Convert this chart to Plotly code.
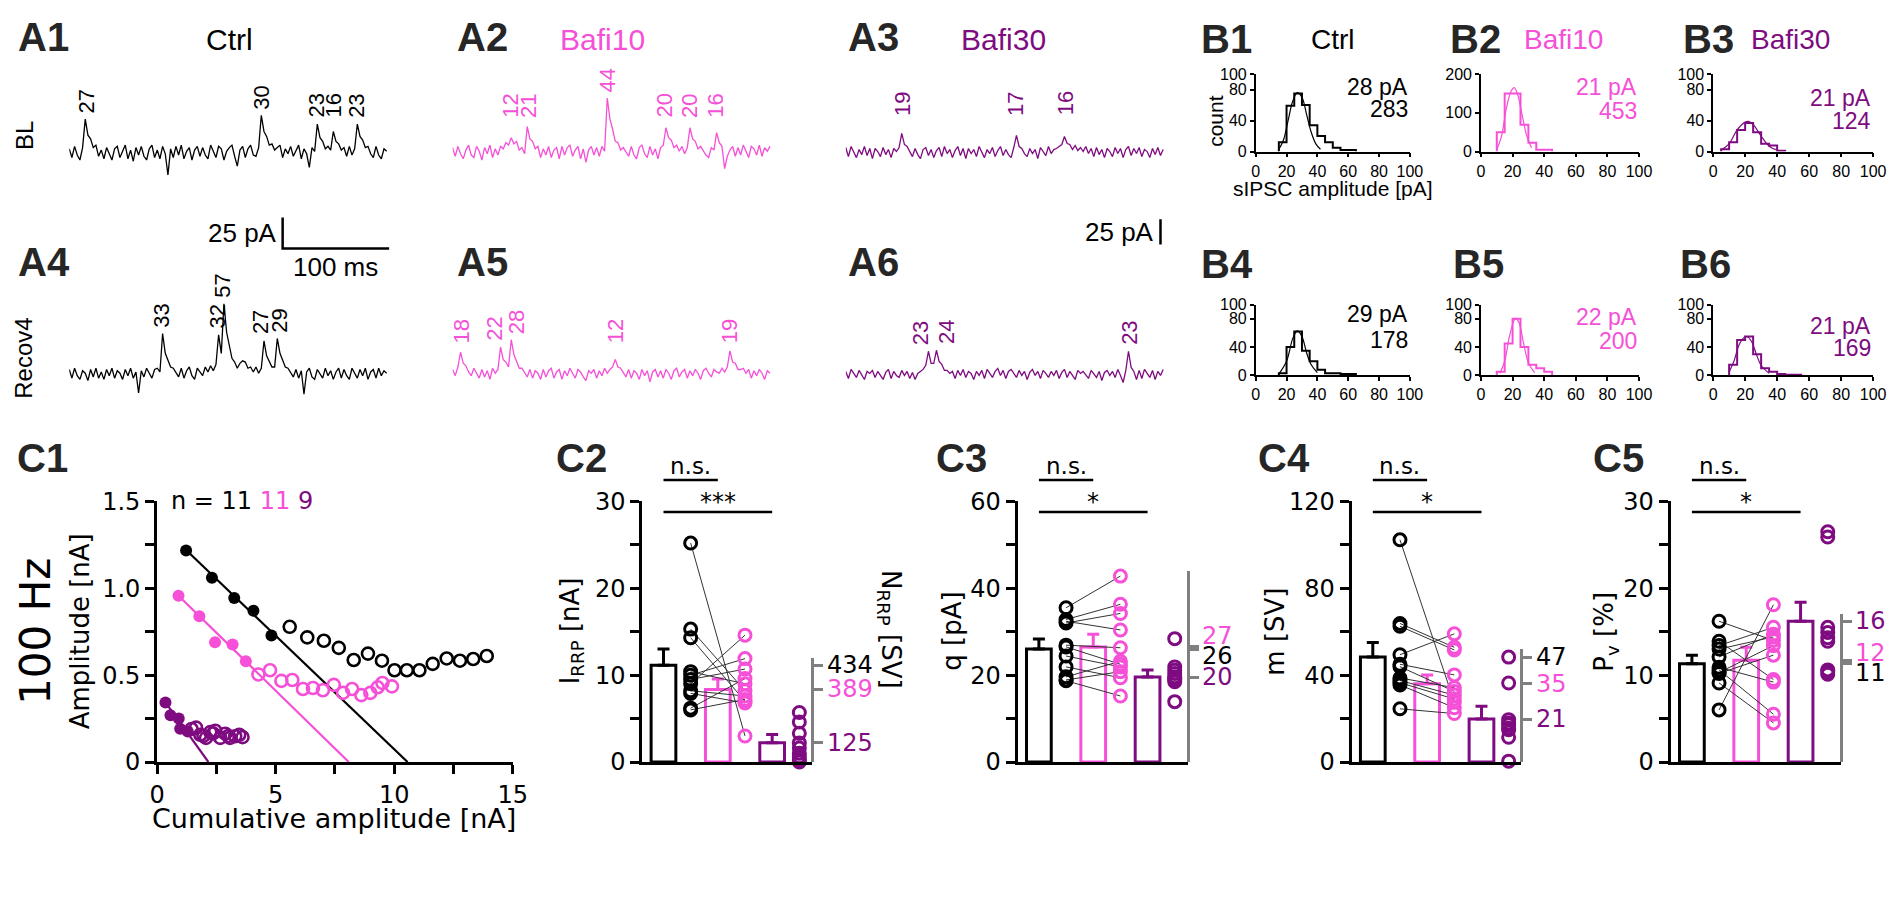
import plotly.graph_objects as go

W, H = 1902, 901
BLACK = "#000000"; PINK = "#F550D7"; PURPLE = "#7E0B80"; GRAY = "#808080"; LABEL_C = "#262626"
ARIAL = "Liberation Sans, Arial, Helvetica, sans-serif"
DEJAVU = "DejaVu Sans, Verdana, sans-serif"

# ================= DATA =================
# --- A: example sIPSC traces (pA, sampled every DT_MS) ---
DT_MS = 2.5
bl_ctrl = [3, -4, 5, -2, -6, 4, 27, 14, 11, 4,
           6, -3, 2, -5, 4, -1, -6, 3, 5, -4,
           1, 6, -5, 2, -7, 4, -2, 5, -3, -6,
           3, 6, -4, 2, -5, 5, -1, -18, 3, -4,
           5, -2, 6, -5, 1, 4, -6, 2, 5, -3,
           4, -2, -5, 6, 1, -4, 5, 3, -6, 1,
           4, 6, -3, -11, 2, 5, -4, 3, 6, -2,
           -3, 4, 30, 17, 13, 6, 7, 2, 4, 6,
           -4, 3, -1, 5, -3, 2, 6, -5, 3, -1,
           -12, 4, 1, 23, 12, 9, 3, 5, 2, 17,
           9, 7, 2, 4, -3, 5, -2, 3, 23, 13,
           10, 4, 5, -1, -4, 5, -2, -5, 3, 1]
bl_b10 = [4, -3, 5, -1, -5, 2, 6, -2, -4, 5,
          1, -6, 4, -1, 6, -4, 3, -2, 5, 3,
          8, 6, 12, 7, 9, 2, 4, -1, 21, 11,
          9, 3, 5, -4, 3, -2, 5, -4, 2, 4,
          -5, 5, -2, 4, 6, -3, 2, 5, -5, 3,
          -8, 2, 5, -2, 4, -3, 5, 1, 44, 27,
          19, 9, 8, 2, 4, 1, -3, 5, -2, -5,
          4, 6, -1, -4, 5, -2, 3, -5, 4, 6,
          20, 12, 10, 4, 6, 1, 5, -1, 4, 20,
          11, 9, 3, 5, 1, -2, -4, 4, 2, 16,
          8, 5, -13, -3, 2, 5, -3, 4, -2, 6,
          1, -4, 5, 3, -2, 6, -3, 4, 1, 5]
bl_b30 = [5, -4, 6, 1, -5, 3, -2, 6, -3, 4,
          -6, 4, 1, -4, 5, -2, 3, -5, 4, 1,
          5, 19, 8, 6, 1, -4, 4, -2, -6, 3,
          5, -3, 3, -5, 2, 5, -4, 6, -1, 3,
          -5, 2, 6, -3, 4, -6, 4, -1, 3, -4,
          6, 1, -5, 3, -1, 5, -4, 2, 6, -3,
          3, -2, -5, 5, 17, 6, 4, -1, -4, 4,
          -1, 3, -6, 5, 1, -3, 6, -1, 3, 4,
          6, 8, 16, 9, 8, 3, 7, 2, 5, 1,
          6, -1, 4, -4, 5, -2, 3, -5, 4, 1,
          -4, 5, -1, 4, -5, 3, 6, -3, 4, -1,
          5, -4, 3, 1, -5, 4, -2, 5, -3, 3]
rc_ctrl = [4, -3, 5, -1, -4, 3, 1, -5, 4, -2,
           5, -3, 2, -4, 4, -1, 5, -3, 3, 1,
           -4, 4, -1, 5, -3, 2, -15, 3, -2, 5,
           1, -3, 4, 5, 2, 33, 17, 12, 6, 5,
           2, -2, 5, -3, 3, 6, -1, -4, 5, 2,
           -1, 6, 2, 7, 3, 8, 32, 17, 57, 34,
           23, 13, 10, 5, 9, 11, 10, 5, 6, 2,
           6, 1, 5, 27, 15, 11, 6, 6, 29, 17,
           12, 6, 5, 1, -2, 4, -3, 3, -16, 2,
           5, -2, -4, 4, 1, -3, 5, -1, 3, -4,
           2, 5, -3, 4, -1, -4, 5, 1, -3, 4,
           -1, 5, -4, 2, 4, -3, 5, -1, 3, 1]
rc_b10 = [4, -1, 6, 18, 9, 7, 2, -1, 5, 1,
          -3, 4, -2, 3, -4, 5, 1, 4, 22, 12,
          10, 6, 28, 16, 11, 5, 5, 1, -2, 4,
          -3, 3, 1, -4, 4, -2, 3, 5, -3, 2,
          4, -4, 3, -1, 5, 1, -3, 4, 2, -2,
          -5, 3, 1, 4, -3, 3, -1, 5, 1, 4,
          6, 12, 6, 5, 1, -2, 4, -3, 3, 1,
          -4, 4, -1, 3, -6, 2, 4, -2, 3, -3,
          4, 1, -4, 3, 5, -2, 2, 4, -3, 3,
          -1, 4, 1, -4, 3, 5, 1, -2, 4, 2,
          1, 5, 2, 6, 19, 10, 9, 4, 4, 5,
          1, 4, -3, 3, -1, 4, 1, -4, 3, 1]
rc_b30 = [3, -4, 5, 1, -3, 4, -1, -5, 3, 1,
          4, -3, 3, -1, -5, 2, 5, -4, 3, -1,
          -3, 4, -1, 3, -4, 2, -5, 1, 3, 5,
          9, 23, 11, 11, 24, 13, 10, 4, 4, 1,
          3, -4, 4, -1, 5, -3, 3, 1, -5, 3,
          -1, 4, -4, 5, 1, -3, 3, 6, -1, 4,
          -4, 3, 5, 1, -3, 4, -1, 3, -5, 2,
          5, -1, 3, -4, 4, 1, -3, 3, -1, 4,
          -4, 2, 5, -3, 3, -1, -5, 4, 1, 3,
          -1, -4, 4, 1, -3, 3, -6, 2, 4, -1,
          3, -3, 5, -1, -8, 4, 23, 7, 3, -5,
          4, -4, 5, 1, -3, 4, -5, 3, -1, 5]
# labelled event amplitudes (pA) and their times (ms)
bl_ctrl_lab_t = [16, 180, 232, 248, 269]; bl_ctrl_lab = [27, 30, 23, 16, 23]
bl_b10_lab_t = [54, 71, 145, 199, 222, 247]; bl_b10_lab = [12, 21, 44, 20, 20, 16]
bl_b30_lab_t = [53, 159, 206]; bl_b30_lab = [19, 17, 16]
rc_ctrl_lab_t = [87, 139, 144, 182, 194]; rc_ctrl_lab = [33, 32, 57, 27, 29]
rc_b10_lab_t = [8, 45, 56, 153, 259]; rc_b10_lab = [18, 22, 28, 12, 19]
rc_b30_lab_t = [78, 86, 266]; rc_b30_lab = [23, 24, 23]
SCALE_PA = 25; SCALE_MS = 100

# --- B: sIPSC amplitude histograms (5 pA bins) ---
BIN_W = 5
h_bl_ctrl_start = 15; h_bl_ctrl = [12, 59, 75, 60, 34, 20, 12, 5, 2, 2]
h_bl_b10_start = 10; h_bl_b10 = [50, 150, 150, 69, 23, 5, 5]
h_bl_b30_start = 5; h_bl_b30 = [3, 12, 28, 37, 25, 10, 8, 1]
h_rc_ctrl_start = 15; h_rc_ctrl = [3, 40, 62, 35, 20, 8, 3, 3, 2, 2]
h_rc_b10_start = 10; h_rc_b10 = [5, 45, 80, 40, 15, 10, 5]
h_rc_b30_start = 10; h_rc_b30 = [15, 50, 55, 30, 10, 5, 2, 1, 1]
# fitted curves
f_bl_ctrl_x = [15, 18, 21, 24, 27, 30, 33, 36, 39, 42]; f_bl_ctrl_y = [3, 15, 40, 65, 76, 70, 48, 25, 10, 3]
f_bl_b10_x = [10, 13, 16, 19, 21, 23, 26, 29, 32]; f_bl_b10_y = [5, 40, 110, 155, 165, 150, 95, 40, 10]
f_bl_b30_x = [5, 10, 15, 20, 22, 25, 30, 35, 40]; f_bl_b30_y = [2, 10, 28, 38, 39, 35, 20, 7, 2]
f_rc_ctrl_x = [15, 20, 24, 27, 30, 33, 36, 40]; f_rc_ctrl_y = [2, 20, 52, 63, 55, 32, 15, 4]
f_rc_b10_x = [12, 15, 18, 21, 22, 24, 27, 30, 34]; f_rc_b10_y = [3, 20, 55, 78, 80, 75, 45, 18, 4]
f_rc_b30_x = [10, 13, 16, 19, 21, 24, 27, 30, 35]; f_rc_b30_y = [5, 20, 42, 53, 55, 48, 30, 14, 3]
hist_mean_text = ["28 pA", "21 pA", "21 pA", "29 pA", "22 pA", "21 pA"]
hist_n_text = ["283", "453", "124", "178", "200", "169"]

# --- C1: cumulative amplitude plot (nA) ---
c1_ctrl_fill_x = [1.22, 2.31, 3.25, 4.06, 4.82]; c1_ctrl_fill_y = [1.217, 1.061, 0.944, 0.870, 0.728]
c1_ctrl_open_x = [5.59, 6.33, 7.03, 7.66, 8.29, 8.89, 9.48, 10.01, 10.53, 11.06, 11.62, 12.21, 12.77, 13.33, 13.9]
c1_ctrl_open_y = [0.778, 0.717, 0.698, 0.657, 0.587, 0.624, 0.583, 0.528, 0.528, 0.528, 0.565, 0.596, 0.583, 0.593, 0.61]
c1_ctrl_fit_x = [1.22, 10.56]; c1_ctrl_fit_y = [1.22, 0.0]
c1_b10_fill_x = [0.90, 1.78, 2.44, 3.18, 3.74]; c1_b10_fill_y = [0.957, 0.839, 0.689, 0.676, 0.580]
c1_b10_open_x = [4.27, 4.76, 5.24, 5.70, 6.15, 6.57, 6.99, 7.45, 7.84, 8.22, 8.61, 8.99, 9.3, 9.5, 9.9]
c1_b10_open_y = [0.504, 0.528, 0.467, 0.472, 0.420, 0.426, 0.413, 0.444, 0.398, 0.420, 0.385, 0.398, 0.43, 0.455, 0.435]
c1_b10_fit_x = [0.90, 8.08]; c1_b10_fit_y = [0.957, 0.0]
c1_b30_fill_x = [0.35, 0.56, 0.91, 0.97, 1.29]; c1_b30_fill_y = [0.343, 0.269, 0.25, 0.191, 0.176]
c1_b30_open_x = [1.45, 1.64, 1.82, 1.95, 2.06, 2.24, 2.36, 2.45, 2.66, 2.87, 3.0, 3.07, 3.29, 3.46, 3.60]
c1_b30_open_y = [0.19, 0.198, 0.157, 0.15, 0.139, 0.172, 0.165, 0.180, 0.139, 0.163, 0.15, 0.139, 0.148, 0.157, 0.143]
c1_b30_fit_x = [0.35, 2.16]; c1_b30_fit_y = [0.343, 0.0]
c1_n = ["11", "11", "9"]

# --- C2-C5: bar + paired points (Ctrl, Bafi10, Bafi30) ---
c2_mean = [11.15, 8.36, 2.23]; c2_sem = [1.85, 1.2, 0.93]
c2_ctrl = [25.2, 15.3, 14.3, 10.4, 10.0, 9.5, 9.0, 8.2, 7.9, 6.2, 6.0]
c2_b10 = [3.0, 8.2, 7.0, 9.0, 11.9, 10.7, 14.6, 7.6, 6.8, 9.6, 7.2]
c2_b30 = [5.7, 4.6, 3.3, 2.2, 1.6, 1.0, 0.6, 0.3, 0.0]
c2_right = ["434", "389", "125"]

c3_mean = [26.0, 26.5, 19.55]; c3_sem = [2.3, 2.9, 1.65]
c3_ctrl = [35.5, 32.8, 32.0, 26.9, 26.5, 24.4, 21.9, 19.6, 18.9, 18.7, 32.4]
c3_b10 = [42.8, 36.3, 34.2, 26.3, 22.5, 21.9, 19.4, 23.2, 20.8, 15.2, 30.4]
c3_b30 = [28.4, 21.9, 21.1, 20.4, 19.6, 19.0, 18.5, 13.9, 19.3]
c3_right = ["26", "27", "20"]

c4_mean = [48.3, 36.0, 19.8]; c4_sem = [6.7, 4.1, 5.9]
c4_ctrl = [102.3, 63.8, 62.5, 49.4, 45.0, 43.9, 38.7, 37.5, 36.5, 35.5, 24.5]
c4_b10 = [27.5, 52.8, 51.6, 59.0, 40.1, 32.5, 34.2, 30.8, 29.0, 25.0, 22.3]
c4_b30 = [48.3, 36.4, 19.5, 18.0, 17.1, 15.5, 14.9, 11.4, 0.4]
c4_right = ["47", "35", "21"]

c5_mean = [11.3, 11.7, 16.2]; c5_sem = [1.0, 1.5, 2.2]
c5_ctrl = [16.2, 13.9, 13.4, 12.1, 10.9, 10.6, 10.3, 10.2, 9.1, 6.0, 13.0]
c5_b10 = [14.0, 9.5, 15.5, 14.7, 9.2, 5.5, 13.4, 12.3, 4.5, 18.1, 14.4]
c5_b30 = [26.5, 25.9, 15.5, 14.9, 14.3, 13.9, 10.6, 10.1, 10.4]
c5_right = ["11", "12", "16"]

# ================= FIGURE =================
GROUP_COLORS = [BLACK, PINK, PURPLE]
layout = dict(width=W, height=H, margin=dict(l=0, r=0, t=0, b=0), paper_bgcolor="white",
              plot_bgcolor="rgba(0,0,0,0)", showlegend=False, barmode="overlay",
              font=dict(family=ARIAL, color=BLACK))
traces, annotations, shapes = [], [], []
n_axes = [0]


def add_axes(x0, x1, ytop, ybot, xr, yr, xa_extra=None, ya_extra=None):
    n_axes[0] += 1
    n = n_axes[0]
    sx = "" if n == 1 else str(n)
    xa = dict(domain=[x0 / W, x1 / W], range=xr, anchor="y" + sx, visible=False,
              fixedrange=True, showgrid=False, zeroline=False)
    ya = dict(domain=[1 - ybot / H, 1 - ytop / H], range=yr, anchor="x" + sx, visible=False,
              fixedrange=True, showgrid=False, zeroline=False)
    if xa_extra:
        xa.update(xa_extra)
    if ya_extra:
        ya.update(ya_extra)
    layout["xaxis" + sx] = xa
    layout["yaxis" + sx] = ya
    return "x" + sx, "y" + sx


def ann(text, x, y, size, color=BLACK, family=ARIAL, xanchor="center", yanchor="middle",
        angle=0, xref="paper", yref="paper", **kw):
    """x, y are pixels when the reference is 'paper', data values otherwise."""
    if xref == "paper":
        x = x / W
    if yref == "paper":
        y = 1 - y / H
    annotations.append(dict(text=text, x=x, y=y, xref=xref, yref=yref, showarrow=False,
                            xanchor=xanchor, yanchor=yanchor, textangle=angle,
                            font=dict(family=family, size=size, color=color), **kw))


def panel_label(text, x, y):
    ann("<b>%s</b>" % text, x, y, 40, color=LABEL_C, xanchor="left")


# ---------- A traces ----------
trace_specs = [
    # data, label times, labels, colour, x0 px, baseline px, px per pA, y range, label level px, label x-shifts
    (bl_ctrl, bl_ctrl_lab_t, bl_ctrl_lab, BLACK, 62, 143, 1.28, [-80, 60], 34, None),
    (bl_b10, bl_b10_lab_t, bl_b10_lab, PINK, 450, 143, 1.28, [-30, 60], 34, None),
    (bl_b30, bl_b30_lab_t, bl_b30_lab, PURPLE, 848, 143, 1.04, [-95, 60], 36, None),
    (rc_ctrl, rc_ctrl_lab_t, rc_ctrl_lab, BLACK, 62, 372, 1.28, [-30, 80], 40, [0, 0, 0, -3, 3]),
    (rc_b10, rc_b10_lab_t, rc_b10_lab, PINK, 450, 372, 1.28, [-30, 80], 30, [0, -6, 5, 0, 0]),
    (rc_b30, rc_b30_lab_t, rc_b30_lab, PURPLE, 848, 372, 1.04, [-30, 80], 28, [-9, 9, 0]),
]
trace_axes = []
for data, lt, lv, col, x0, base, k, yr, lvl, xs in trace_specs:
    ytop = base - yr[1] * k
    ybot = base - yr[0] * k
    xa, ya = add_axes(x0, x0 + 324, ytop, ybot, [0, 300], yr)
    trace_axes.append((xa, ya))
    tt = [i * DT_MS for i in range(len(data))]
    traces.append(go.Scatter(x=tt, y=data, mode="lines", line=dict(color=col, width=1.3),
                             xaxis=xa, yaxis=ya, hoverinfo="skip"))
    for j, (t, v) in enumerate(zip(lt, lv)):
        ybase = max(lvl / k, v + 4 / k)
        ann(str(v), t, ybase, 22, color=col, xref=xa, yref=ya, angle=-90,
            yanchor="bottom", xshift=(xs[j] if xs else 0))

# scale bars (Ctrl/Bafi10 gain on A1 axes, Bafi30 gain on A3 axes)
xa1, ya1 = trace_axes[0]
sb_y0 = -77.3
traces.append(go.Scatter(x=[300 - SCALE_MS, 300 - SCALE_MS, 300], y=[sb_y0 + SCALE_PA, sb_y0, sb_y0],
                         mode="lines", line=dict(color=BLACK, width=2.5), xaxis=xa1, yaxis=ya1,
                         hoverinfo="skip"))
ann("%d pA" % SCALE_PA, 300 - SCALE_MS, sb_y0 + SCALE_PA / 2, 26, xref=xa1, yref=ya1, xanchor="right", xshift=-4)
ann("%d ms" % SCALE_MS, 300 - SCALE_MS / 2, sb_y0, 26, xref=xa1, yref=ya1, yanchor="top", yshift=-2)
xa3, ya3 = trace_axes[2]
sb2_y0 = -91.3
traces.append(go.Scatter(x=[295, 295], y=[sb2_y0, sb2_y0 + SCALE_PA], mode="lines",
                         line=dict(color=BLACK, width=2.5), xaxis=xa3, yaxis=ya3, hoverinfo="skip"))
ann("%d pA" % SCALE_PA, 295, sb2_y0 + SCALE_PA / 2, 26, xref=xa3, yref=ya3, xanchor="right", xshift=-4)

# A labels & titles
for t, x, y in [("A1", 8, 24), ("A2", 452, 24), ("A3", 848, 24),
                ("A4", 8, 256), ("A5", 452, 256), ("A6", 848, 256)]:
    panel_label(t, x, y)
ann("Ctrl", 224, 26, 30)
ann("Bafi10", 602, 26, 30, color=PINK)
ann("Bafi30", 1008, 26, 30, color=PURPLE)
ann("BL", 16, 125, 24, angle=-90)
ann("Recov4", 16, 355, 24, angle=-90)

# ---------- B histograms ----------
hist_specs = [
    (h_bl_ctrl_start, h_bl_ctrl, f_bl_ctrl_x, f_bl_ctrl_y, BLACK, 1263, 1419, 62, 142, 100, [0, 40, 80, 100], 75, 98),
    (h_bl_b10_start, h_bl_b10, f_bl_b10_x, f_bl_b10_y, PINK, 1491, 1651, 62, 142, 200, [0, 100, 200], 75, 100),
    (h_bl_b30_start, h_bl_b30, f_bl_b30_x, f_bl_b30_y, PURPLE, 1726, 1888, 62, 142, 100, [0, 40, 80, 100], 87, 110),
    (h_rc_ctrl_start, h_rc_ctrl, f_rc_ctrl_x, f_rc_ctrl_y, BLACK, 1263, 1419, 300, 373, 100, [0, 40, 80, 100], 310, 336),
    (h_rc_b10_start, h_rc_b10, f_rc_b10_x, f_rc_b10_y, PINK, 1491, 1651, 300, 373, 100, [0, 40, 80, 100], 313, 338),
    (h_rc_b30_start, h_rc_b30, f_rc_b30_x, f_rc_b30_y, PURPLE, 1726, 1888, 300, 373, 100, [0, 40, 80, 100], 322, 345),
]
hist_axis = dict(visible=True, showline=True, linecolor=BLACK, linewidth=1.5, ticks="outside",
                 ticklen=4, tickwidth=1.5, tickcolor=BLACK, tickfont=dict(family=ARIAL, size=16, color=BLACK))
for i, (st, cnts, fx, fy, col, x0, x1, yt, yb, ymax, yticks, ty1, ty2) in enumerate(hist_specs):
    xa, ya = add_axes(x0, x1, yt, yb, [0, 100], [0, ymax],
                      xa_extra=dict(hist_axis, tickvals=[0, 20, 40, 60, 80, 100]),
                      ya_extra=dict(hist_axis, tickvals=yticks))
    edges = [st + k * BIN_W for k in range(len(cnts) + 1)]
    xs = [edges[0]] + edges
    ys = [0] + cnts + [0]
    traces.append(go.Scatter(x=xs, y=ys, mode="lines", line=dict(color=col, width=2, shape="hv"),
                             xaxis=xa, yaxis=ya, hoverinfo="skip", cliponaxis=False))
    traces.append(go.Scatter(x=fx, y=fy, mode="lines", line=dict(color=col, width=1.2, shape="spline"),
                             xaxis=xa, yaxis=ya, hoverinfo="skip"))
    ann(hist_mean_text[i], x1, ty1, 23, color=col, xanchor="right")
    ann(hist_n_text[i], x1, ty2, 23, color=col, xanchor="right")

for t, x, y in [("B1", 1206, 26), ("B2", 1458, 26), ("B3", 1693, 26),
                ("B4", 1206, 258), ("B5", 1461, 258), ("B6", 1690, 258)]:
    panel_label(t, x, y)
ann("Ctrl", 1341, 26, 28)
ann("Bafi10", 1575, 26, 28, color=PINK)
ann("Bafi30", 1804, 26, 28, color=PURPLE)
ann("count", 1222, 110, 21, angle=-90)
ann("sIPSC amplitude [pA]", 1341, 180, 21)

# ---------- C1 ----------
c_axis = dict(visible=True, showline=True, linecolor=BLACK, linewidth=3, ticks="outside",
              ticklen=9, tickwidth=3, tickcolor=BLACK, tickfont=dict(family=DEJAVU, size=24, color=BLACK))


def minor(vals):
    return dict(tickvals=vals, ticks="outside", ticklen=9, tickwidth=3, tickcolor=BLACK, showgrid=False)


xa, ya = add_axes(151, 511, 503, 772, [0, 15], [0, 1.5],
                  xa_extra=dict(c_axis, tickvals=[0, 5, 10, 15], minor=minor([2.5, 7.5, 12.5])),
                  ya_extra=dict(c_axis, tickvals=[0, 0.5, 1.0, 1.5], ticktext=["0", "0.5", "1.0", "1.5"],
                                minor=minor([0.25, 0.75, 1.25])))
for fx, fy, ox, oy, lx, ly, col in [
        (c1_ctrl_fill_x, c1_ctrl_fill_y, c1_ctrl_open_x, c1_ctrl_open_y, c1_ctrl_fit_x, c1_ctrl_fit_y, BLACK),
        (c1_b10_fill_x, c1_b10_fill_y, c1_b10_open_x, c1_b10_open_y, c1_b10_fit_x, c1_b10_fit_y, PINK),
        (c1_b30_fill_x, c1_b30_fill_y, c1_b30_open_x, c1_b30_open_y, c1_b30_fit_x, c1_b30_fit_y, PURPLE)]:
    traces.append(go.Scatter(x=lx, y=ly, mode="lines", line=dict(color=col, width=2.2),
                             xaxis=xa, yaxis=ya, hoverinfo="skip"))
    traces.append(go.Scatter(x=ox, y=oy, mode="markers", xaxis=xa, yaxis=ya, hoverinfo="skip",
                             marker=dict(symbol="circle-open", size=12, color=col,
                                         line=dict(width=2.6, color=col))))
    traces.append(go.Scatter(x=fx, y=fy, mode="markers", xaxis=xa, yaxis=ya, hoverinfo="skip",
                             marker=dict(symbol="circle", size=12, color=col)))
panel_label("C1", 7, 458)
ann("n = %s <span style='color:%s'>%s</span> <span style='color:%s'>%s</span>"
    % (c1_n[0], PINK, c1_n[1], PURPLE, c1_n[2]), 163, 503, 24, family=DEJAVU, xanchor="left")
ann("100 Hz", 28, 637, 42, family=DEJAVU, angle=-90)
ann("Amplitude [nA]", 73, 637, 26, family=DEJAVU, angle=-90)
ann("Cumulative amplitude [nA]", 330, 830, 27, family=DEJAVU)

# ---------- C2-C5 ----------
C_TOP, C_BOT = 503, 772
XR = [-0.391, 2.736]
c_panels = [
    dict(name="C2", ax=642, ymax=30, step=5, lstep=10, mean=c2_mean, sem=c2_sem,
         pts=[c2_ctrl, c2_b10, c2_b30], rtop=12, rlab=c2_right, rlab_y=c2_mean,
         sig="***", ylab="I<sub>RRP</sub> [nA]", ylab_x=570),
    dict(name="C3", ax=1022, ymax=60, step=10, lstep=20, mean=c3_mean, sem=c3_sem,
         pts=[c3_ctrl, c3_b10, c3_b30], rtop=44, rlab=c3_right, rlab_y=[24.3, 29.0, 19.5],
         sig="*", ylab="q [pA]", ylab_x=956),
    dict(name="C4", ax=1360, ymax=120, step=20, lstep=40, mean=c4_mean, sem=c4_sem,
         pts=[c4_ctrl, c4_b10, c4_b30], rtop=52, rlab=c4_right, rlab_y=c4_mean,
         sig="*", ylab="m [SV]", ylab_x=1283),
    dict(name="C5", ax=1683, ymax=30, step=5, lstep=10, mean=c5_mean, sem=c5_sem,
         pts=[c5_ctrl, c5_b10, c5_b30], rtop=17, rlab=c5_right, rlab_y=[10.2, 12.6, 16.2],
         sig="*", ylab="P<sub>v</sub> [%]", ylab_x=1617),
]
label_x = {"C2": 553, "C3": 937, "C4": 1263, "C5": 1602}
for p in c_panels:
    ax0 = p["ax"]
    ymax = p["ymax"]
    major = list(range(0, ymax + 1, p["lstep"]))
    minor_v = [v for v in range(0, ymax + 1, p["step"]) if v % p["lstep"] != 0]
    xa, ya = add_axes(ax0, ax0 + 172, C_TOP, C_BOT, XR, [0, ymax],
                      xa_extra=dict(visible=True, showline=True, linecolor=BLACK, linewidth=3,
                                    ticks="", showticklabels=False),
                      ya_extra=dict(c_axis, tickvals=major, minor=minor(minor_v)))
    # bars
    for g in range(3):
        traces.append(go.Bar(x=[g], y=[p["mean"][g]], width=0.455, xaxis=xa, yaxis=ya,
                             marker=dict(color="white", line=dict(color=GROUP_COLORS[g], width=3)),
                             error_y=dict(type="data", array=[p["sem"][g]], arrayminus=[0],
                                          symmetric=False, color=GROUP_COLORS[g], thickness=3, width=6),
                             hoverinfo="skip"))
    # paired lines Ctrl -> Bafi10
    lx, ly = [], []
    for a, b in zip(p["pts"][0], p["pts"][1]):
        lx += [0.5, 1.5, None]
        ly += [a, b, None]
    traces.append(go.Scatter(x=lx, y=ly, mode="lines", line=dict(color="#333333", width=1),
                             xaxis=xa, yaxis=ya, hoverinfo="skip"))
    for g in range(3):
        vals = p["pts"][g]
        traces.append(go.Scatter(x=[g + 0.5] * len(vals), y=vals, mode="markers", xaxis=xa, yaxis=ya,
                                 marker=dict(symbol="circle-open", size=12, color=GROUP_COLORS[g],
                                             line=dict(width=3, color=GROUP_COLORS[g])),
                                 cliponaxis=False, hoverinfo="skip"))
    # right grey axis (per-group values)
    n_axes[0] += 1
    ry = "y%d" % n_axes[0]
    scale = (C_BOT - C_TOP) / ymax
    layout["yaxis%d" % n_axes[0]] = dict(
        domain=[1 - C_BOT / H, 1 - (C_BOT - p["rtop"] * scale) / H], range=[0, p["rtop"]],
        anchor="free", position=(ax0 + 172) / W, side="right", showline=True, linecolor=GRAY,
        linewidth=3, ticks="outside", ticklen=9, tickwidth=3, tickcolor=GRAY,
        tickvals=p["mean"], showticklabels=False, showgrid=False, zeroline=False, fixedrange=True)
    traces.append(go.Scatter(x=[None], y=[None], xaxis=xa, yaxis=ry, hoverinfo="skip"))
    for g in range(3):
        ann(p["rlab"][g], ax0 + 172 + 13, p["rlab_y"][g], 24, color=GROUP_COLORS[g],
            family=DEJAVU, xanchor="left", xref="paper", yref=ya)
    # significance
    shapes.append(dict(type="line", xref=xa, yref="paper", x0=0, x1=1, y0=1 - 481 / H, y1=1 - 481 / H,
                       line=dict(color=BLACK, width=2.5)))
    shapes.append(dict(type="line", xref=xa, yref="paper", x0=0, x1=2, y0=1 - 514 / H, y1=1 - 514 / H,
                       line=dict(color=BLACK, width=2.5)))
    ann("n.s.", 0.5, 466, 23, family=DEJAVU, xref=xa)
    ann(p["sig"], 1, 504, 24, family=DEJAVU, xref=xa)
    panel_label(p["name"], label_x[p["name"]], 458)
    ann(p["ylab"], p["ylab_x"], 637, 26, family=DEJAVU, angle=-90)

ann("N<sub>RRP</sub> [SV]", 893, 635, 26, family=DEJAVU, angle=90)

layout["annotations"] = annotations
layout["shapes"] = shapes
fig = go.Figure(data=traces, layout=layout)
fig.write_html("out.html", config={"displayModeBar": False},
               post_script="document.body.style.margin='0';document.body.style.overflow='hidden';")
